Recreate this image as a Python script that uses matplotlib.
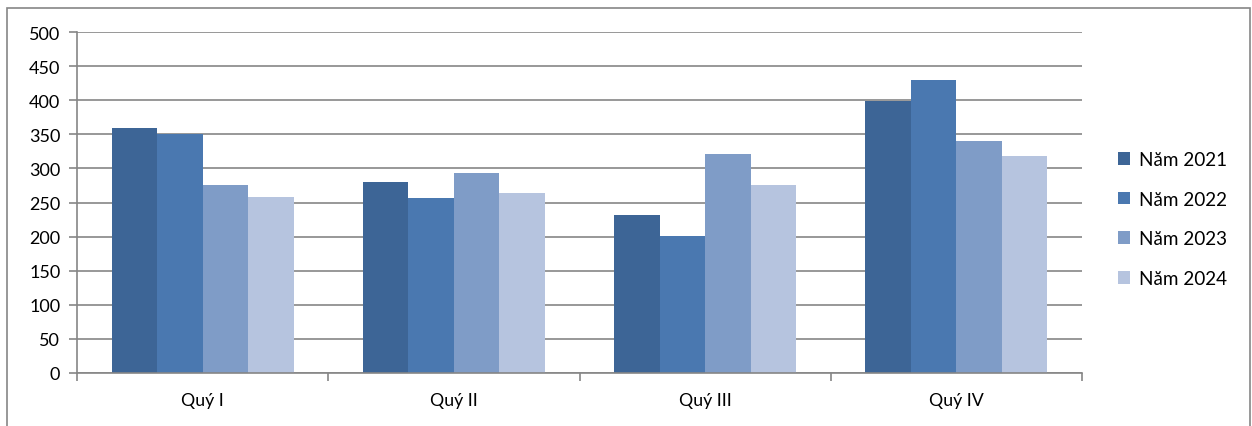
import matplotlib
matplotlib.use("Agg")
import matplotlib.pyplot as plt
import numpy as np
from matplotlib.patches import Rectangle

plt.rcParams["font.family"] = ["Lato", "DejaVu Sans"]

quarters = ["Quý I", "Quý II", "Quý III", "Quý IV"]
series_names = ["Năm 2021", "Năm 2022", "Năm 2023", "Năm 2024"]
nam_2021 = [360, 280, 231, 399]
nam_2022 = [350, 256, 201, 430]
nam_2023 = [275, 294, 321, 340]
nam_2024 = [258, 264, 275, 318]
colors = ["#3d6596", "#4a78b0", "#7f9cc7", "#b6c4df"]
y_ticks = list(range(0, 501, 50))

grid_color = "#868686"

fig = plt.figure(figsize=(12.52, 4.27), dpi=100)
ax = fig.add_axes([77 / 1252, 1 - 373.7 / 427, (1082 - 77) / 1252, (373.7 - 33.3) / 427])

x = np.arange(len(quarters))
bar_w = 0.1813
all_series = [nam_2021, nam_2022, nam_2023, nam_2024]
for i, (vals, name, col) in enumerate(zip(all_series, series_names, colors)):
    ax.bar(x + (i - 1.5) * bar_w, vals, width=bar_w, color=col, label=name,
           zorder=3, linewidth=0)

ax.set_xlim(-0.5, len(quarters) - 0.5)
ax.set_ylim(0, 500)
ax.set_yticks(y_ticks)
ax.yaxis.grid(True, color=grid_color, linewidth=1.2, zorder=1)
ax.set_axisbelow(True)

ax.set_xticks(x)
ax.set_xticklabels(quarters, fontsize=12.8)
ax.tick_params(axis="x", length=0, pad=14)
ax.set_xticks(np.arange(-0.5, len(quarters)), minor=True)
ax.tick_params(axis="x", which="minor", length=6, width=1.2, color=grid_color, direction="out")
ax.tick_params(axis="y", length=6, width=1.2, color=grid_color, labelsize=13, pad=6)

for side in ["top", "right"]:
    ax.spines[side].set_visible(False)
ax.spines["left"].set_color(grid_color)
ax.spines["left"].set_linewidth(1.2)
ax.spines["bottom"].set_color(grid_color)
ax.spines["bottom"].set_linewidth(1.2)
ax.spines["bottom"].set_zorder(4)

fig.legend(loc="center left", bbox_to_anchor=(1118 / 1252, 1 - 220 / 427),
           frameon=False, fontsize=13.6, handlelength=0.65, handleheight=0.65,
           handletextpad=0.45, labelspacing=1.2, borderpad=0, borderaxespad=0)

# outer chart border
fig.patches.append(Rectangle((7 / 1252, -0.05), (1250 - 7) / 1252, 1.05 - 9 / 427,
                             transform=fig.transFigure, fill=False,
                             edgecolor="#868686", linewidth=1.2))

fig.savefig("out.png", dpi=100)
